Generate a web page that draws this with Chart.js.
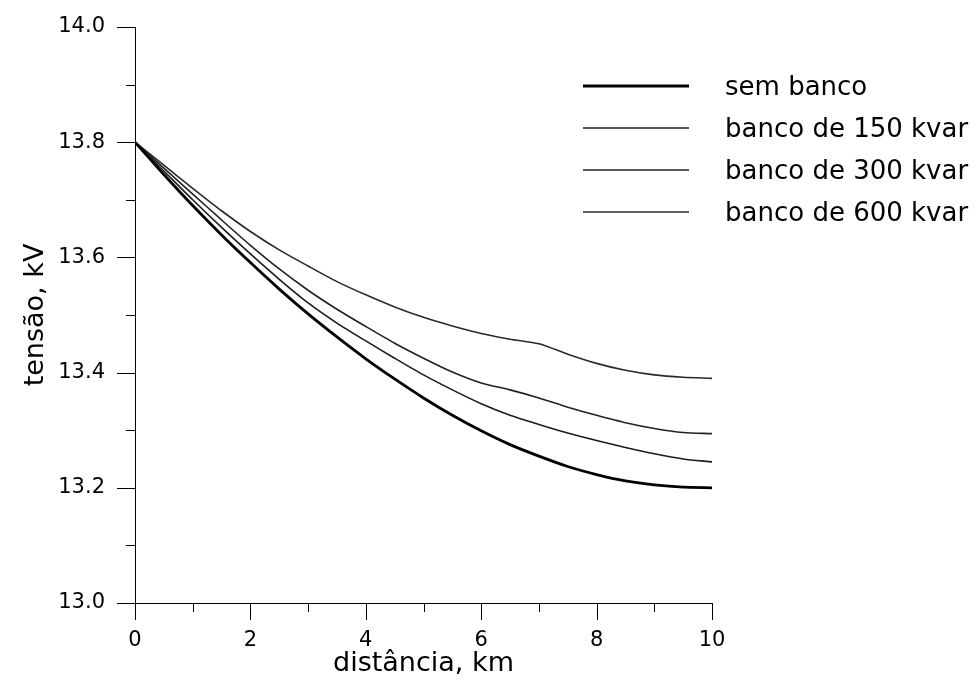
<!DOCTYPE html>
<html>
<head>
<meta charset="utf-8">
<script src="https://cdn.jsdelivr.net/npm/chart.js@4.4.1/dist/chart.umd.min.js"></script>
<style>
  html, body { margin: 0; padding: 0; background: #fff; }
  #wrap { width: 977px; height: 692px; position: relative; }
</style>
</head>
<body>
<div id="wrap"><canvas id="c" width="977" height="692"></canvas></div>
<script>
// distance, km
const distances = [0, 0.5, 1, 1.5, 2, 2.5, 3, 3.5, 4, 4.5, 5, 5.5, 6, 6.5, 7, 7.5, 8, 8.5, 9, 9.5, 10];
// voltage, kV
const semBanco  = [13.800, 13.744, 13.690, 13.639, 13.591, 13.545, 13.502, 13.462, 13.424, 13.389, 13.356, 13.326, 13.299, 13.275, 13.255, 13.237, 13.223, 13.212, 13.205, 13.201, 13.200];
const banco150  = [13.800, 13.750, 13.700, 13.652, 13.606, 13.562, 13.521, 13.486, 13.455, 13.425, 13.396, 13.370, 13.346, 13.326, 13.310, 13.295, 13.282, 13.270, 13.259, 13.250, 13.245];
const banco300  = [13.800, 13.755, 13.710, 13.665, 13.621, 13.580, 13.543, 13.510, 13.480, 13.451, 13.425, 13.401, 13.382, 13.370, 13.356, 13.340, 13.326, 13.313, 13.303, 13.296, 13.294];
const banco600  = [13.800, 13.760, 13.720, 13.681, 13.645, 13.613, 13.585, 13.558, 13.535, 13.514, 13.496, 13.481, 13.468, 13.458, 13.450, 13.432, 13.416, 13.404, 13.396, 13.392, 13.390];
const seriesLabels = ['sem banco', 'banco de 150 kvar', 'banco de 300 kvar', 'banco de 600 kvar'];
const xTickValues = [0, 2, 4, 6, 8, 10];
const yTickValues = [13.0, 13.2, 13.4, 13.6, 13.8, 14.0];
const xTitle = 'distância, km';
const yTitle = 'tensão, kV';

const FONT = 'DejaVu Sans';
const toPts = arr => arr.map((v, i) => ({ x: distances[i], y: v }));

const ticksPlugin = {
  id: 'ticksPlugin',
  afterDraw(chart) {
    const ctx = chart.ctx;
    const xs = chart.scales.x, ys = chart.scales.y;
    const area = chart.chartArea;
    ctx.save();
    ctx.strokeStyle = '#000';
    ctx.lineWidth = 1;
    for (let v = 0; v <= 10; v += 1) {
      const px = Math.round(xs.getPixelForValue(v)) + 0.5;
      const len = (v % 2 === 0) ? 17 : 9;
      ctx.beginPath();
      ctx.moveTo(px, area.bottom);
      ctx.lineTo(px, area.bottom + len);
      ctx.stroke();
    }
    for (let k = 0; k <= 10; k++) {
      const v = 13.0 + k * 0.1;
      const py = Math.round(ys.getPixelForValue(v)) + 0.5;
      const len = (k % 2 === 0) ? 18 : 9;
      ctx.beginPath();
      ctx.moveTo(area.left, py);
      ctx.lineTo(area.left - len, py);
      ctx.stroke();
    }
    const rowsY = [86, 128, 170, 212];
    chart.data.datasets.forEach((ds, i) => {
      const y = rowsY[i];
      ctx.strokeStyle = ds.borderColor;
      ctx.lineWidth = ds.borderWidth;
      ctx.beginPath();
      ctx.moveTo(583, y);
      ctx.lineTo(689, y);
      ctx.stroke();
      ctx.fillStyle = '#000';
      ctx.font = '26px "' + FONT + '"';
      ctx.textBaseline = 'middle';
      ctx.textAlign = 'left';
      ctx.fillText(ds.label, 725, y + 2);
    });
    ctx.restore();
  }
};

new Chart(document.getElementById('c'), {
  type: 'line',
  data: {
    datasets: [
      { label: seriesLabels[0], data: toPts(semBanco), borderColor: '#000', borderWidth: 2.8 },
      { label: seriesLabels[1], data: toPts(banco150), borderColor: '#1c1c1c', borderWidth: 1.6 },
      { label: seriesLabels[2], data: toPts(banco300), borderColor: '#222', borderWidth: 1.6 },
      { label: seriesLabels[3], data: toPts(banco600), borderColor: '#2a2a2a', borderWidth: 1.6 }
    ]
  },
  options: {
    responsive: false,
    animation: false,
    devicePixelRatio: 1,
    layout: { autoPadding: false, padding: { left: 0, right: 265, top: 27, bottom: 0 } },
    elements: { point: { radius: 0 }, line: { tension: 0.25, fill: false } },
    plugins: { legend: { display: false }, tooltip: { enabled: false } },
    scales: {
      x: {
        type: 'linear', min: 0, max: 10,
        afterFit: s => { s.height = 89; s.paddingLeft = 0; s.paddingRight = 0; },
        afterBuildTicks: s => { s.ticks = xTickValues.map(v => ({ value: v })); },
        grid: { display: false, drawTicks: false },
        border: { display: true, color: '#000', width: 1 },
        ticks: { color: '#000', font: { family: FONT, size: 21 }, padding: 25, maxRotation: 0, autoSkip: false,
                 callback: v => String(v) },
        title: { display: true, text: xTitle, color: '#000', font: { family: FONT, size: 27 }, padding: { top: 0, bottom: 12 } }
      },
      y: {
        type: 'linear', min: 13.0, max: 14.0,
        afterFit: s => { s.width = 135; s.paddingTop = 0; s.paddingBottom = 0; },
        afterBuildTicks: s => { s.ticks = yTickValues.map(v => ({ value: v })); },
        grid: { display: false, drawTicks: false },
        border: { display: true, color: '#000', width: 1 },
        ticks: { color: '#000', font: { family: FONT, size: 21 }, padding: 30, autoSkip: false,
                 callback: v => Number(v).toFixed(1) },
        title: { display: true, text: yTitle, color: '#000', font: { family: FONT, size: 27 }, padding: { top: 20, bottom: 0 } }
      }
    }
  },
  plugins: [ticksPlugin]
});
</script>
</body>
</html>
